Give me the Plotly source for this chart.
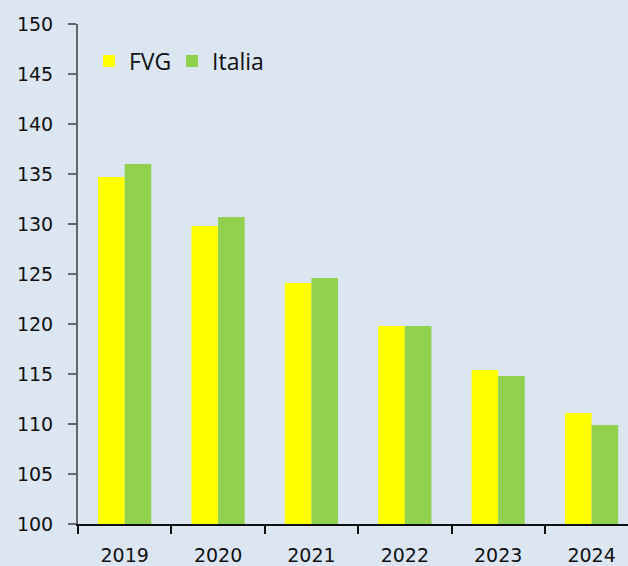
import plotly.graph_objects as go

years = ["2019", "2020", "2021", "2022", "2023", "2024"]
fvg = [134.7, 129.8, 124.1, 119.8, 115.4, 111.1]
italia = [136.0, 130.7, 124.6, 119.8, 114.8, 109.9]

fig = go.Figure()
fig.add_trace(go.Bar(x=years, y=fvg, name="FVG", legend="legend",
                     marker=dict(color="#ffff00", line=dict(width=0))))
fig.add_trace(go.Bar(x=years, y=italia, name="Italia", legend="legend2",
                     marker=dict(color="#92d050", line=dict(width=0))))

leg_common = dict(orientation="h", yanchor="top", xanchor="left", bgcolor="rgba(0,0,0,0)",
                  font=dict(family="Open Sans", size=23, color="#111111"), itemwidth=30)

fig.update_layout(
    width=628, height=566,
    margin=dict(l=78, r=0, t=24, b=42),
    paper_bgcolor="#dce6f1", plot_bgcolor="#dce6f1",
    barmode="group", bargap=0.43, bargroupgap=0,
    font=dict(family="DejaVu Sans", size=19, color="#111111"),
    showlegend=True,
    legend=dict(x=0.02, y=0.969, **leg_common),
    legend2=dict(x=0.171, y=0.969, **leg_common),
)
fig.update_xaxes(
    type="category", range=[-0.5, 5.39], showgrid=False, showline=True, linecolor="#111111", linewidth=1.5,
    ticks="outside", tickson="boundaries", ticklen=8, tickcolor="#111111", tickwidth=1.5,
    tickfont=dict(size=19), ticklabelstandoff=13,
)
fig.update_yaxes(
    range=[100, 150], dtick=5, showgrid=False, zeroline=False, showline=True, linecolor="#666670", linewidth=2,
    ticks="outside", ticklen=8, tickcolor="#666670", tickwidth=1.5,
    tickfont=dict(size=19), ticklabelstandoff=11,
)

fig.write_html("out.html", config={"displayModeBar": False},
               post_script="document.body.style.margin='0';")
